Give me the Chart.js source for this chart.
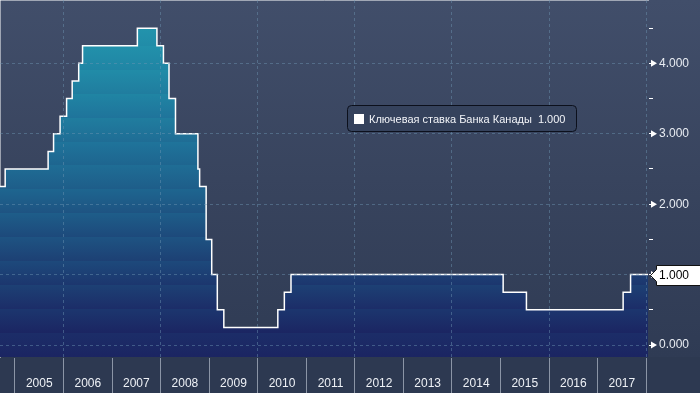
<!DOCTYPE html>
<html><head><meta charset="utf-8">
<script src="https://cdn.jsdelivr.net/npm/chart.js@4.4.1/dist/chart.umd.min.js"></script>
<style>html,body{margin:0;padding:0;background:#2d3951;overflow:hidden}#wrap{width:700px;height:393px;position:relative}canvas{display:block}</style>
</head><body><div id="wrap"><canvas id="c" width="700" height="393"></canvas></div>
<script>
// ---- data ----
const seriesName = 'Ключевая ставка Банка Канады';
const changeDates = ['2004-09-10','2004-10-19','2005-09-07','2005-10-18','2005-12-06','2006-01-24','2006-03-07','2006-04-25','2006-05-24','2007-07-10','2007-12-04','2008-01-22','2008-03-04','2008-04-22','2008-10-08','2008-10-21','2008-12-09','2009-01-20','2009-03-03','2009-04-21','2010-06-01','2010-07-20','2010-09-08','2015-01-21','2015-07-15','2017-07-12','2017-09-06','2018-01-15'];
const rates = [2.25,2.50,2.75,3.00,3.25,3.50,3.75,4.00,4.25,4.50,4.25,4.00,3.50,3.00,2.50,2.25,1.50,1.00,0.50,0.25,0.50,0.75,1.00,0.75,0.50,0.75,1.00,1.00];
const yearLabels = ['2005','2006','2007','2008','2009','2010','2011','2012','2013','2014','2015','2016','2017'];
const yTickLabels = ['0.000','1.000','2.000','3.000','4.000'];

function decYear(s){
  const [Y,M,D] = s.split('-').map(Number);
  const t0 = Date.UTC(Y,0,1), t1 = Date.UTC(Y+1,0,1);
  return Y + (Date.UTC(Y,M-1,D) - t0)/(t1 - t0);
}
const points = changeDates.map((d,i)=>({x:decYear(d), y:rates[i]}));
const lastValue = rates[rates.length-1];

const FONT = '"Liberation Sans", Arial, sans-serif';

function hex(c){return [parseInt(c.slice(1,3),16),parseInt(c.slice(3,5),16),parseInt(c.slice(5,7),16)];}
const fillAnchors = [[-0.2,'#1a2360'],[0,'#1b2562'],[0.5,'#1c316b'],[1,'#1d3f74'],[2,'#1e5c88'],[3,'#1f739a'],[4,'#218ba7'],[4.9,'#2498b0']];
function fillColorAt(v){
  for(let i=1;i<fillAnchors.length;i++){
    if(v<=fillAnchors[i][0]||i===fillAnchors.length-1){
      const [a,ca]=fillAnchors[i-1],[b,cb]=fillAnchors[i];
      let t=(v-a)/(b-a); t=Math.max(0,Math.min(1,t));
      const A=hex(ca),B=hex(cb);
      return 'rgb('+A.map((x,k)=>Math.round(x+(B[k]-x)*t)).join(',')+')';
    }
  }
}
function makeFill(ctx){
  const chart = ctx.chart; const ca = chart.chartArea; const ys = chart.scales.y;
  if(!ca||!ys) return '#1e5c88';
  const g = chart.ctx.createLinearGradient(0, ca.top, 0, ca.bottom);
  const vmin = ys.min, vmax = ys.max, step = 0.34;
  const H = ca.bottom - ca.top;
  for(let v=vmin; v<vmax; v+=step){
    const v2 = Math.min(vmax, v+step);
    const c = fillColorAt((v+v2)/2);
    const o1 = Math.min(1,Math.max(0,(ys.getPixelForValue(v)-ca.top)/H));
    const o2 = Math.min(1,Math.max(0,(ys.getPixelForValue(v2)-ca.top)/H));
    g.addColorStop(o1,c); g.addColorStop(o2,c);
  }
  return g;
}

const bgPlugin = {
  id:'bg',
  beforeDraw(chart){
    const {ctx, chartArea:ca, width, height} = chart;
    ctx.save();
    const g = ctx.createLinearGradient(0,0,0,ca.bottom);
    g.addColorStop(0,'#414e6a'); g.addColorStop(0.5,'#38445e'); g.addColorStop(1,'#2f3b54');
    ctx.fillStyle = g; ctx.fillRect(0,0,width,ca.bottom);
    ctx.fillStyle = '#2d3951'; ctx.fillRect(0,ca.bottom,width,height-ca.bottom);
    ctx.restore();
  }
};

const decoPlugin = {
  id:'deco',
  afterDraw(chart){
    const {ctx, chartArea:ca, scales:{y}} = chart;
    ctx.save();
    ctx.fillStyle = '#ffffff';
    yTickLabels.forEach(l=>{
      const py = y.getPixelForValue(Number(l));
      ctx.beginPath(); ctx.moveTo(651,py-3.5); ctx.lineTo(657,py); ctx.lineTo(651,py+3.5); ctx.closePath(); ctx.fill();
    });
    const py = Math.round(y.getPixelForValue(lastValue))+0.5;
    ctx.beginPath();
    ctx.moveTo(650.5,py); ctx.lineTo(656.5,py-6); ctx.lineTo(656.5,py-10); ctx.lineTo(702,py-10);
    ctx.lineTo(702,py+10); ctx.lineTo(656.5,py+10); ctx.lineTo(656.5,py+6); ctx.closePath();
    ctx.fillStyle='#ffffff'; ctx.fill(); ctx.strokeStyle='#111111'; ctx.lineWidth=1; ctx.stroke();
    ctx.fillStyle='#000000'; ctx.font='12px '+FONT; ctx.textBaseline='middle'; ctx.textAlign='left';
    ctx.fillText(lastValue.toFixed(3), 659, py+0.5);
    const bx=347.5, by=105.5, bw=229, bh=26, r=4;
    ctx.beginPath();
    ctx.moveTo(bx+r,by); ctx.lineTo(bx+bw-r,by); ctx.quadraticCurveTo(bx+bw,by,bx+bw,by+r);
    ctx.lineTo(bx+bw,by+bh-r); ctx.quadraticCurveTo(bx+bw,by+bh,bx+bw-r,by+bh);
    ctx.lineTo(bx+r,by+bh); ctx.quadraticCurveTo(bx,by+bh,bx,by+bh-r);
    ctx.lineTo(bx,by+r); ctx.quadraticCurveTo(bx,by,bx+r,by); ctx.closePath();
    ctx.fillStyle='#35425c'; ctx.fill(); ctx.strokeStyle='#0c101c'; ctx.stroke();
    ctx.fillStyle='#ffffff'; ctx.fillRect(354,114,10,10);
    ctx.font='11px '+FONT; ctx.fillStyle='#f2f4f8';
    ctx.fillText(seriesName+'  '+lastValue.toFixed(3), 369, 119.5);
    ctx.restore();
  }
};

function noPad(s){ s.paddingTop=0; s.paddingBottom=0; s.paddingLeft=0; s.paddingRight=0; }

new Chart(document.getElementById('c'), {
  type:'line',
  data:{datasets:[{
    label: seriesName,
    data: points,
    stepped: 'before',
    borderColor:'#ffffff',
    borderWidth:1.5,
    pointRadius:0,
    fill:'start',
    backgroundColor: makeFill
  }]},
  options:{
    responsive:false, animation:false, devicePixelRatio:1,
    layout:{padding:0},
    plugins:{legend:{display:false}, tooltip:{enabled:false}},
    scales:{
      x:{
        type:'linear', position:'bottom',
        min: points[0].x, max: points[points.length-1].x,
        afterBuildTicks(axis){
          const t=[];
          yearLabels.forEach(l=>{ t.push({value:Number(l)}); t.push({value:Number(l)+0.5}); });
          t.push({value:Number(yearLabels[yearLabels.length-1])+1});
          axis.ticks=t;
        },
        afterFit(s){ s.height=36; noPad(s); },
        grid:{
          z:1,
          color(c){ const v=c.tick&&c.tick.value; return (Number.isInteger(v)&&v%2===0)?'rgba(110,150,180,0.45)':'rgba(0,0,0,0)'; },
          tickColor(c){ const v=c.tick&&c.tick.value; return Number.isInteger(v)?'#8b95a6':'rgba(0,0,0,0)'; },
          tickLength:36, lineWidth:1, tickWidth:1
        },
        border:{color:'#ffffff', width:1, dash:[3,3]},
        ticks:{
          autoSkip:false, maxRotation:0, minRotation:0, padding:-17,
          color:'#eef1f6', font:{family:FONT, size:12},
          callback(v){ return Number.isInteger(v)?'':String(Math.floor(v)); }
        }
      },
      y:{
        type:'linear', position:'right',
        min:-0.17, max:4.9,
        afterBuildTicks(axis){
          const t=[];
          yTickLabels.forEach(l=>{ t.push({value:Number(l)}); t.push({value:Number(l)+0.5}); });
          axis.ticks=t;
        },
        afterFit(s){ s.width=52; noPad(s); },
        grid:{
          z:1,
          color(c){ const v=c.tick&&c.tick.value; return Number.isInteger(v)?'rgba(110,150,180,0.45)':'rgba(0,0,0,0)'; },
          tickColor:'#ffffff', tickLength:5, lineWidth:1
        },
        border:{color:'#ffffff', width:1, dash:[3,3]},
        ticks:{
          autoSkip:false, padding:6, color:'#e8ecf2', font:{family:FONT, size:12},
          callback(v){ return Number.isInteger(v)? v.toFixed(3) : ''; }
        }
      }
    }
  },
  plugins:[bgPlugin, decoPlugin]
});
</script>
</body></html>
